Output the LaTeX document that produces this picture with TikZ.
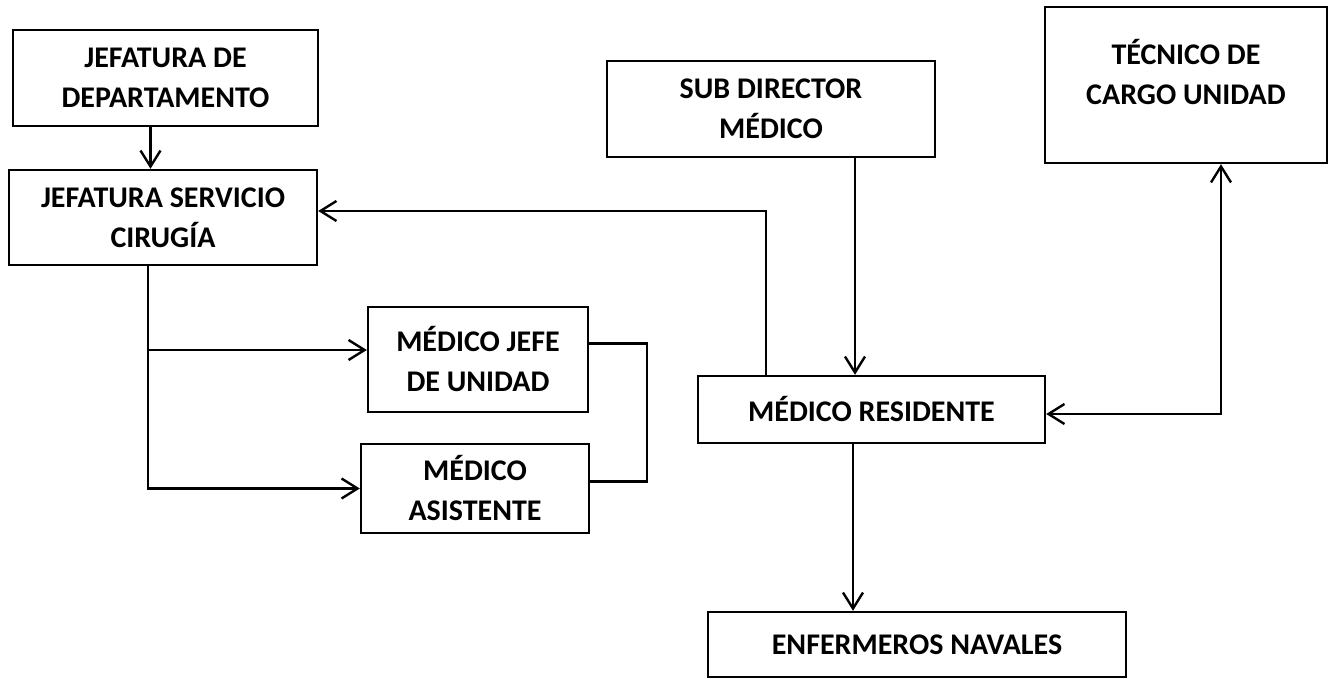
\documentclass[tikz,border=0pt]{standalone}
\usepackage{fontspec}
\setmainfont{Carlito}
\usetikzlibrary{arrows.meta}

\tikzstyle{block}=[rectangle,
    line width=1.2pt,
    draw=black,
    align=center,
    inner sep=0pt,
    font=\bfseries\fontsize{15}{20}\selectfont]
\tikzstyle{line}=[line width=1.2pt]
\tikzstyle{arrow}=[line, -{Straight Barb[length=8pt,width=10pt]}]

\begin{document}
\begin{tikzpicture}[x=0.5pt, y=-0.5pt]
    \useasboundingbox (0,0) rectangle (1335,679);
    % boxes
    \node (jdep) [block, minimum width=152.5pt, minimum height=48pt] at (165.5,78) {JEFATURA DE\\DEPARTAMENTO};
    \node (jserv) [block, minimum width=154pt, minimum height=47.5pt] at (163,217.5) {JEFATURA SERVICIO\\CIRUGÍA};
    \node (subdir) [block, minimum width=164pt, minimum height=48pt] at (771,109) {SUB DIRECTOR\\MÉDICO};
    \node (tec) [block, minimum width=141pt, minimum height=78pt] at (1186,85) {};
    \node (tectxt) [block, draw=none] at ([yshift=6.5pt]tec.center) {TÉCNICO DE\\CARGO UNIDAD};
    \node (jefe) [block, minimum width=110pt, minimum height=52.5pt] at (478,359.5) {MÉDICO JEFE\\DE UNIDAD};
    \node (asist) [block, minimum width=114pt, minimum height=44.5pt] at (475,488.5) {MÉDICO\\ASISTENTE};
    \node (resid) [block, minimum width=173.5pt, minimum height=33.5pt] at (871.5,409.5) {MÉDICO RESIDENTE};
    \node (enf) [block, minimum width=209pt, minimum height=32.5pt] at (917,644.5) {ENFERMEROS NAVALES};

    % connectors
    \draw [arrow] ([xshift=-7.5pt]jdep.south) -- ([xshift=-7.5pt]jdep.south |- jserv.north);
    \draw [arrow] ([xshift=-7.5pt]jserv.south) |- ([yshift=4.75pt]jefe.west);
    \draw [arrow] ([xshift=-7.5pt]jserv.south) |- (asist.west);
    \draw [line] ([yshift=8pt]jefe.east) -- ++(29pt,0) |- ([yshift=3.5pt]asist.east);
    \draw [arrow] ([xshift=-52.75pt]resid.north) |- ([yshift=3.25pt]jserv.east);
    \draw [arrow] ([xshift=42pt]subdir.south) -- ([xshift=42pt]subdir.south |- resid.north);
    \draw [arrow] ([xshift=-9.25pt]resid.south) -- ([xshift=-9.25pt]resid.south |- enf.north);
    \draw [line, {Straight Barb[length=8pt,width=10pt]}-{Straight Barb[length=8pt,width=10pt]}] ([xshift=17.5pt]tec.south) |- ([yshift=-2.25pt]resid.east);
\end{tikzpicture}
\end{document}
